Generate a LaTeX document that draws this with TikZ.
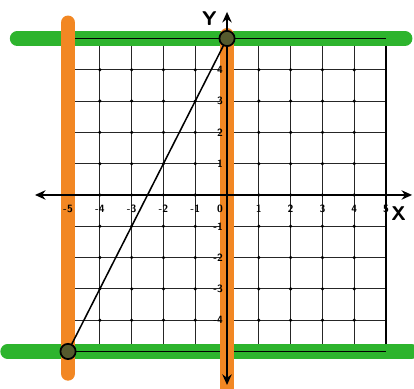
\documentclass[tikz,border=0pt]{standalone}
\usepackage{tikz}
\usetikzlibrary{arrows.meta, positioning}

\definecolor{hlorange}{RGB}{242,135,35}
\definecolor{hlgreen}{RGB}{45,180,45}
\definecolor{ptfill}{RGB}{85,90,45}

\tikzset{
  hlband/.style={line width=12.5pt, line cap=round},
  gridline/.style={black!85, line width=0.7pt},
  edgeline/.style={black, line width=1.5pt},
  axisline/.style={black, line width=1.8pt, {Stealth[length=9pt,width=8pt]}-{Stealth[length=9pt,width=8pt]}},
  ptmark/.style={circle, draw=black, line width=1.5pt, fill=ptfill, minimum size=13pt, inner sep=0pt},
  ticklabel/.style={font=\sffamily\bfseries\small, inner sep=0pt}
}

\begin{document}
\begin{tikzpicture}[x=0.954cm, y=0.939cm]
\useasboundingbox (-7.14,-6.17) rectangle (5.88,6.23);
% grid
\foreach \i in {-4,...,4} {
  \draw [gridline] (\i,-5) -- (\i,5);
  \draw [gridline] (-5,\i) -- (5,\i);
}
\foreach \i in {-4,...,4} {
  \foreach \j in {-4,...,4} {
    \fill [black] (\i,\j) circle (1.5pt);
  }
}
\draw [edgeline] (-5,-5) rectangle (5,5);
% highlight bands
\draw [hlband, hlgreen] (-6.6,5) -- (5.6,5);
\draw [hlband, hlgreen] (-6.9,-5) -- (5.8,-5);
\draw [edgeline] (-5,5) -- (5,5);
\draw [edgeline] (-5,-5) -- (5,-5);
\draw [hlband, hlorange] (-5,5.5) -- (-5,-5.7);
\draw [hlband, hlorange] (0,5.1) -- (0,-6.2);
% axes
\coordinate (xl) at (-6.04,0);
\coordinate (xr) at (5.82,0);
\coordinate (yt) at (0,5.85);
\coordinate (yb) at (0,-6.07);
\draw [axisline] (xl) -- (xr);
\draw [axisline] (yb) -- (yt);
\node [font=\sffamily\bfseries\fontsize{17}{17}\selectfont] (xlabel) at (5.4,-0.6) {X};
\node [font=\sffamily\bfseries\fontsize{17}{17}\selectfont] (ylabel) at (-0.55,5.65) {Y};
% tick labels
\foreach \i in {-5,...,-1,1,2,3,4,5} {
  \node [ticklabel] (xtick\i) at (\i,-0.45) {\i};
}
\node [ticklabel] (xtick0) at (-0.22,-0.45) {0};
\foreach \j in {-4,...,-1,1,2,3,4} {
  \node [ticklabel, anchor=east] (ytick\j) at (-0.12,\j) {\j};
}
% the line and its end points
\node [ptmark] (pa) at (-5,-5) {};
\node [ptmark] (pb) at (0,5) {};
\draw [black, line width=1.3pt] (pa) -- (pb);
\end{tikzpicture}
\end{document}
